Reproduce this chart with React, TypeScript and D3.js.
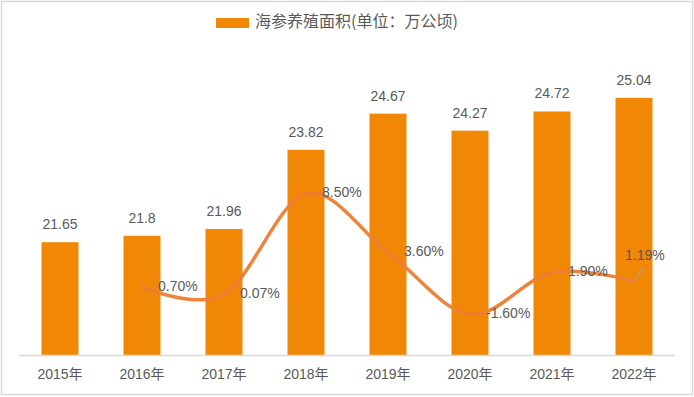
import React from "react";
import * as d3 from "d3";

const categories = ["2015年", "2016年", "2017年", "2018年", "2019年", "2020年", "2021年", "2022年"];
const areaValues = [21.65, 21.8, 21.96, 23.82, 24.67, 24.27, 24.72, 25.04];
const growthCategories = ["2016年", "2017年", "2018年", "2019年", "2020年", "2021年", "2022年"];
const growthValues = [0.7, 0.07, 8.5, 3.6, -1.6, 1.9, 1.19];
const legendLabel = "海参养殖面积(单位：万公顷)";

const W = 694;
const H = 397;
const plotLeft = 19;
const plotRight = 675;
const plotTop = 57;
const plotBottom = 355;

const BAR_COLOR = "#F08806";
const LINE_COLOR = "#ED7D31";
const TEXT_COLOR = "#595959";
const FONT = "'Liberation Sans', Arial, 'Noto Sans CJK SC', sans-serif";
const CJK_FONT = "'Noto Sans CJK SC', 'Liberation Sans', sans-serif";

export default function App() {
  const band = d3.scaleBand<string>().domain(categories).range([plotLeft, plotRight]);
  const y = d3.scaleLinear().domain([19, 26]).range([plotBottom, plotTop]);
  const y2 = d3.scaleLinear().domain([-5, 20]).range([plotBottom, plotTop - 1]);
  const cx = (c: string) => (band(c) as number) + band.bandwidth() / 2;

  const linePts: [number, number][] = growthCategories.map((c, i) => [cx(c), y2(growthValues[i])]);
  const lineGen = d3.line<[number, number]>().curve(d3.curveCardinal.tension(0));
  const path = lineGen(linePts) || "";

  return (
    <svg
      width={W}
      height={H}
      style={{ position: "absolute", left: 0, top: 0, background: "#fff" }}
      fontFamily={FONT}
    >
      <rect x={1.5} y={1.5} width={691} height={393} fill="#fff" stroke="#D9D9D9" strokeWidth={1.5} />

      {/* legend */}
      <rect x={216} y={18} width={33} height={10} fill={BAR_COLOR} />
      <text x={255} y={23} dominantBaseline="middle" fontSize={16} fill={TEXT_COLOR} fontFamily={CJK_FONT}>
        {legendLabel}
      </text>

      {/* bars */}
      {categories.map((c, i) => {
        const bx = cx(c) - 18.5;
        return (
          <rect key={c} x={bx} y={y(areaValues[i])} width={37} height={plotBottom - y(areaValues[i])} fill={BAR_COLOR} />
        );
      })}

      {/* axis line */}
      <line x1={plotLeft} x2={plotRight} y1={plotBottom + 0.5} y2={plotBottom + 0.5} stroke="#D9D9D9" strokeWidth={1.5} />

      {/* bar labels */}
      {categories.map((c, i) => (
        <text key={c} x={cx(c)} y={y(areaValues[i]) - 13} textAnchor="middle" fontSize={14} fill={TEXT_COLOR}>
          {String(areaValues[i])}
        </text>
      ))}

      {/* category labels */}
      {categories.map((c) => (
        <text key={c} x={cx(c)} y={379} textAnchor="middle" fontSize={14} fill={TEXT_COLOR}>
          {c}
        </text>
      ))}

      {/* growth line */}
      <path d={path} fill="none" stroke={LINE_COLOR} strokeWidth={3.5} strokeLinecap="round" opacity={0.95} />

      {/* growth labels */}
      {growthCategories.map((c, i) => {
        const px = cx(c);
        const py = y2(growthValues[i]);
        const last = i === growthCategories.length - 1;
        const lx = last ? px - 9 : px + 16;
        const ly = last ? py - 25 : py;
        return (
          <g key={c}>
            {last && <line x1={px} y1={py} x2={px + 9} y2={py - 13} stroke="#A6A6A6" strokeWidth={1} />}
            <text x={lx} y={ly} dominantBaseline="middle" fontSize={14} fill={TEXT_COLOR}>
              {growthValues[i].toFixed(2) + "%"}
            </text>
          </g>
        );
      })}
    </svg>
  );
}
